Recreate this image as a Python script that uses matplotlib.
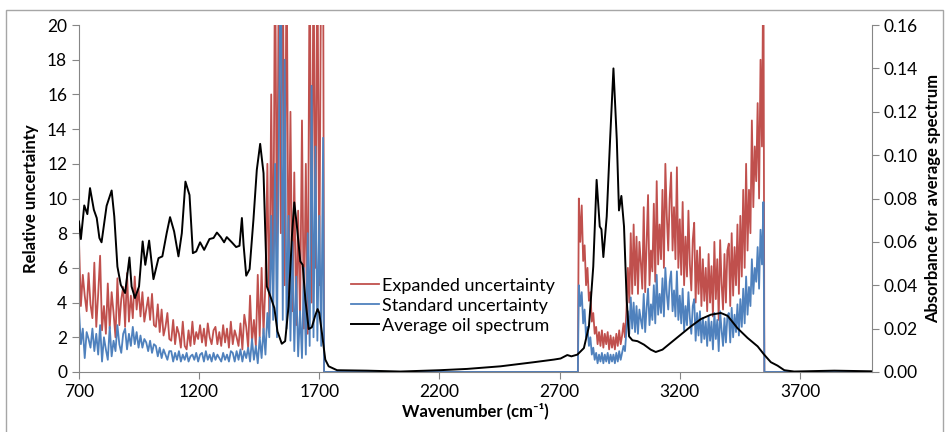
import matplotlib
matplotlib.use("Agg")
import matplotlib.pyplot as plt
from matplotlib.lines import Line2D
from matplotlib.patches import Rectangle
import numpy as np

plt.rcParams["font.family"] = ["Lato", "DejaVu Sans"]

# ---- data ----
# relative uncertainty, 700-1716 cm-1 (8 cm-1 steps)
expanded_lo = [
    7.6, 3.8, 5.6, 4.4, 3.5, 5.7, 3.9, 3.1,
    6.3, 2.6, 4.5, 6.7, 2.4, 3.8, 2.2, 5.1,
    2.5, 4.6, 3.4, 2.0, 5.4, 2.7, 4.2, 4.9,
    2.6, 5.7, 2.9, 4.4, 3.1, 5.5, 3.6, 4.8,
    3.2, 4.6, 2.9, 3.6, 4.3, 3.0, 4.5, 2.7,
    2.6, 3.9, 2.3, 3.6, 2.1, 2.6, 3.4, 1.9,
    1.8, 3.0, 1.6, 2.6, 2.2, 1.4, 2.9, 1.5,
    1.3, 2.4, 1.5, 2.9, 1.6, 2.3, 1.9, 2.7,
    1.7, 2.5, 1.5, 2.8, 2.0, 1.6, 2.4, 2.6,
    1.6, 2.3, 1.5, 2.7, 1.7, 2.5, 1.4, 2.9,
    1.6, 2.4, 2.0, 1.5, 2.8, 1.3, 3.3, 2.6,
    1.4, 4.4, 1.7, 3.0, 1.5, 5.6, 2.0, 6.0,
    2.2, 5.2, 12.0, 2.8, 16.0, 4.0, 25.0, 6.0,
    25.0, 8.0, 25.0, 5.0, 25.0, 4.5, 15.0, 3.5,
    11.5, 2.7, 9.3, 3.0, 14.5, 2.5, 12.0, 2.2,
    25.0, 4.0, 25.0, 6.0, 25.0, 5.0, 25.0, 25.0,
]
standard_lo = [
    3.6, 1.6, 2.5, 0.8, 2.3, 1.9, 1.4, 2.5,
    1.2, 2.2, 1.0, 2.7, 0.6, 2.0, 1.3, 0.7,
    2.6, 0.9, 1.8, 1.2, 2.7, 1.6, 1.1, 2.2,
    2.5, 1.3, 2.2, 1.5, 2.6, 1.6, 2.3, 1.4,
    2.1, 1.4, 1.9, 1.7, 1.2, 1.8, 1.1, 1.6,
    1.5, 0.9, 1.4, 0.8, 1.3, 1.0, 0.7, 1.2,
    1.2, 0.6, 1.1, 0.7, 1.2, 0.6, 1.0, 0.7,
    1.1, 0.6, 0.9, 1.0, 0.7, 1.1, 0.6, 1.0,
    1.1, 0.6, 1.2, 0.7, 1.0, 0.6, 1.1, 0.7,
    1.0, 0.8, 0.6, 1.1, 0.7, 1.0, 0.6, 1.2,
    1.1, 0.6, 1.2, 0.7, 1.3, 0.6, 1.2, 0.8,
    1.4, 0.6, 1.9, 0.7, 1.5, 0.5, 2.0, 0.8,
    2.5, 1.0, 3.4, 2.0, 9.0, 3.0, 12.0, 2.0,
    14.0, 25.0, 3.0, 18.0, 2.5, 9.0, 1.8, 7.5,
    1.2, 5.5, 0.9, 3.5, 0.8, 6.0, 1.0, 8.0,
    1.5, 16.5, 2.0, 13.0, 1.8, 9.0, 1.5, 13.5,
]
# relative uncertainty, 2780-3548 cm-1
expanded_hi = [
    10.0, 7.5, 9.6, 6.4, 7.3, 5.0, 6.0, 4.1,
    4.6, 2.9, 3.4, 2.2, 2.6, 1.6, 2.3, 1.5,
    2.4, 1.4, 2.2, 1.6, 2.3, 1.3, 2.1, 1.4,
    2.0, 1.3, 2.2, 1.5, 2.4, 1.6, 2.1, 2.8,
    2.0, 3.5, 6.0, 4.0, 8.0, 4.5, 8.5, 5.0,
    7.8, 4.5, 7.5, 6.3, 4.8, 9.5, 4.6, 7.4,
    10.2, 5.0, 7.0, 5.8, 9.7, 5.2, 11.0, 6.2,
    8.5, 6.5, 10.5, 6.0, 12.0, 9.0, 7.0, 10.0,
    11.5, 7.0, 9.5, 6.5, 11.8, 6.0, 8.8, 5.6,
    9.8, 5.0, 7.8, 5.5, 9.3, 6.2, 4.7, 7.6,
    8.6, 4.0, 7.0, 4.5, 7.2, 3.8, 6.5, 4.1,
    6.0, 3.5, 6.8, 4.0, 6.1, 3.2, 7.5, 4.2,
    6.5, 3.0, 7.6, 5.1, 3.6, 6.8, 4.0, 7.0,
    7.4, 3.8, 8.0, 4.4, 7.2, 5.0, 8.5, 4.5,
    9.0, 5.5, 10.5, 6.0, 12.0, 7.0, 10.5, 8.0,
    14.5, 9.5, 13.0, 11.0, 15.5, 10.0, 18.0, 13.0,
    25.0,
]
standard_hi = [
    5.0, 3.8, 4.6, 2.8, 3.6, 2.0, 2.6, 1.5,
    2.0, 1.0, 1.4, 0.7, 1.1, 0.5, 1.0, 0.6,
    1.1, 0.5, 1.0, 0.6, 1.1, 0.5, 1.0, 0.6,
    1.0, 0.5, 1.1, 0.6, 1.2, 0.7, 1.1, 1.5,
    1.2, 2.4, 3.5, 2.2, 4.3, 2.5, 4.0, 2.3,
    3.8, 2.2, 3.6, 3.0, 2.5, 4.5, 2.3, 3.7,
    4.8, 2.7, 3.9, 3.0, 5.0, 2.8, 5.6, 3.3,
    4.5, 3.4, 5.4, 3.2, 6.0, 4.5, 3.6, 5.2,
    5.8, 3.5, 4.7, 3.2, 5.8, 3.0, 4.4, 2.8,
    4.8, 2.4, 3.8, 2.7, 4.6, 3.1, 2.2, 3.8,
    4.2, 1.8, 3.4, 2.1, 3.5, 1.7, 3.1, 1.9,
    2.9, 1.5, 3.2, 1.8, 2.9, 1.3, 3.4, 1.9,
    3.0, 1.2, 3.5, 2.4, 1.5, 3.1, 1.7, 3.2,
    3.4, 1.7, 3.7, 2.0, 3.3, 2.3, 3.9, 2.1,
    4.2, 2.6, 4.8, 2.8, 5.5, 3.3, 4.9, 3.8,
    6.5, 4.5, 6.0, 5.2, 7.2, 4.8, 8.2, 6.2,
    9.8,
]
# outside the two measured windows the uncertainty series sit at zero
gap_wn = [1720, 2776, 3552, 4000]

# average oil spectrum (absorbance)
spec_wn = [
    700, 708, 722, 735, 746, 762, 774, 785, 794, 815, 836, 847, 860, 874, 892,
    910, 919, 933, 950, 965, 976, 992, 1010, 1031, 1047, 1065, 1079, 1096, 1114,
    1128, 1143, 1160, 1174, 1188, 1204, 1221, 1243, 1260, 1274, 1290, 1304, 1315,
    1336, 1354, 1368, 1378, 1385, 1396, 1410, 1426, 1440, 1454, 1468, 1482, 1499,
    1513, 1526, 1544, 1558, 1572, 1586, 1596, 1607, 1621, 1631, 1642, 1656, 1669,
    1683, 1693, 1700, 1711, 1725, 1739, 1774, 1899, 2037, 2200, 2315, 2454, 2593,
    2676, 2704, 2732, 2749, 2774, 2801, 2822, 2840, 2854, 2867, 2874, 2882, 2896,
    2910, 2924, 2938, 2947, 2957, 2968, 2979, 2989, 3003, 3024, 3051, 3079, 3100,
    3128, 3162, 3204, 3246, 3288, 3329, 3371, 3399, 3440, 3482, 3524, 3551, 3579,
    3607, 3635, 3676, 3843, 4000,
]
spec_abs = [
    0.0694, 0.0613, 0.0768, 0.0728, 0.0848, 0.0748, 0.0710, 0.0618, 0.0598,
    0.0766, 0.0837, 0.0717, 0.0486, 0.0402, 0.0364, 0.0528, 0.0394, 0.0341,
    0.0394, 0.0602, 0.0494, 0.0606, 0.0428, 0.0525, 0.0533, 0.0640, 0.0714,
    0.0648, 0.0533, 0.0640, 0.0878, 0.0816, 0.0548, 0.0556, 0.0598, 0.0563,
    0.0613, 0.0618, 0.0643, 0.0622, 0.0598, 0.0622, 0.0598, 0.0576, 0.0582,
    0.0710, 0.0586, 0.0444, 0.0474, 0.0702, 0.0932, 0.1052, 0.0917, 0.0394,
    0.0341, 0.0295, 0.0187, 0.0130, 0.0142, 0.0302, 0.0625, 0.0782, 0.0671,
    0.0510, 0.0494, 0.0334, 0.0198, 0.0206, 0.0260, 0.0290, 0.0272, 0.0180,
    0.0057, 0.0026, 0.0008, 0.0006, 0.0002, 0.0008, 0.0014, 0.0026, 0.0045,
    0.0057, 0.0062, 0.0078, 0.0072, 0.0080, 0.0110, 0.0210, 0.0486, 0.0886,
    0.0671, 0.0658, 0.0530, 0.0717, 0.1070, 0.1400, 0.1070, 0.0745, 0.0812,
    0.0671, 0.0334, 0.0164, 0.0146, 0.0142, 0.0126, 0.0103, 0.0092, 0.0103,
    0.0134, 0.0172, 0.0210, 0.0244, 0.0264, 0.0272, 0.0259, 0.0202, 0.0157,
    0.0118, 0.0080, 0.0045, 0.0029, 0.0008, 0.0002, 0.0006, 0.0003,
]

x_ticks = [700, 1200, 1700, 2200, 2700, 3200, 3700]

# ---- assemble uncertainty curves ----
wn_lo = np.linspace(700, 1716, len(expanded_lo))
wn_hi = np.linspace(2780, 3548, len(expanded_hi))
wn_all = np.concatenate([wn_lo, gap_wn[:2], wn_hi, gap_wn[2:]])
exp_all = np.concatenate([expanded_lo, [0, 0], expanded_hi, [0, 0]])
std_all = np.concatenate([standard_lo, [0, 0], standard_hi, [0, 0]])

red = "#C0504D"
blue = "#4F81BD"
grey = "#868686"

fig = plt.figure(figsize=(9.49, 4.32), dpi=100)
ax = fig.add_axes([0.0832, 0.139, 0.8357, 0.803])
ax2 = ax.twinx()

ax.plot(wn_all, exp_all, color=red, lw=1.3)
ax.plot(wn_all, std_all, color=blue, lw=1.3)
ax2.plot(spec_wn, spec_abs, color="black", lw=1.4)

ax.set_xlim(700, 4000)
ax.set_ylim(0, 20)
ax2.set_ylim(0, 0.16)
ax.set_xticks(x_ticks)
ax.set_yticks(np.arange(0, 21, 2))
ax2.set_yticks(np.arange(0, 0.161, 0.02))
ax2.set_yticklabels([f"{v:.2f}" for v in np.arange(0, 0.161, 0.02)])

for a in (ax, ax2):
    a.spines["top"].set_visible(False)
    for s in ("left", "right", "bottom"):
        a.spines[s].set_color(grey)
    a.tick_params(colors=grey, labelcolor="black", labelsize=12.5,
                  length=5, direction="out")
ax.spines["right"].set_visible(False)
ax2.spines["left"].set_visible(False)
ax2.spines["bottom"].set_visible(False)

ax.set_xlabel("Wavenumber (cm\u207b\u00b9)", fontsize=12, fontweight="bold", labelpad=2)
ax.set_ylabel("Relative uncertainty", fontsize=12, fontweight="bold", labelpad=6)
ax2.set_ylabel("Absorbance for average spectrum", fontsize=12, fontweight="bold", labelpad=5)

handles = [Line2D([], [], color=red, lw=1.3),
           Line2D([], [], color=blue, lw=1.3),
           Line2D([], [], color="black", lw=1.4)]
ax2.legend(handles, ["Expanded uncertainty", "Standard uncertainty", "Average oil spectrum"],
           loc="upper left", bbox_to_anchor=(0.343, 0.272), frameon=False,
           fontsize=13, handlelength=1.55, handletextpad=0.15,
           labelspacing=0.22, borderaxespad=0, borderpad=0)

fig.patches.append(Rectangle((0.006, -0.02), 0.988, 0.997, transform=fig.transFigure,
                             fill=False, edgecolor="#A6A6A6", lw=1))

fig.savefig("out.png", dpi=100)
